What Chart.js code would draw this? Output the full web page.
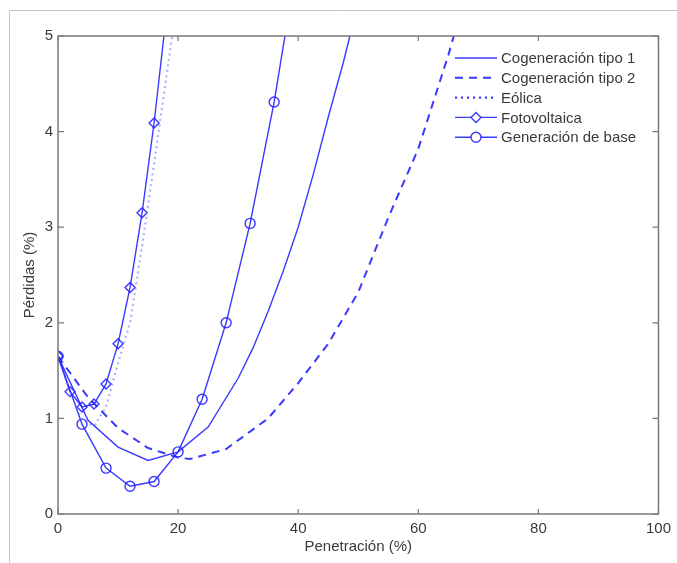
<!DOCTYPE html>
<html>
<head>
<meta charset="utf-8">
<script src="https://cdn.jsdelivr.net/npm/chart.js@4.4.1/dist/chart.umd.min.js"></script>
<style>
  html, body { margin: 0; padding: 0; background: #fff; }
</style>
</head>
<body>
<canvas id="grafico" width="677" height="563"></canvas>
<script>
// Valores (penetración % -> pérdidas %)
const tipo1X = [0, 5, 10, 15, 20, 25, 30, 32.5, 35, 37.5, 40, 42.5, 45, 47.5, 50];
const tipo1Y = [1.65, 0.98, 0.70, 0.56, 0.65, 0.91, 1.42, 1.74, 2.12, 2.54, 3.0, 3.55, 4.15, 4.72, 5.35];

const tipo2X = [0, 5, 10, 15, 20, 22, 28, 35, 40, 45, 50, 55, 60, 65, 70];
const tipo2Y = [1.65, 1.22, 0.90, 0.69, 0.59, 0.575, 0.68, 1.0, 1.37, 1.78, 2.32, 3.1, 3.82, 4.8, 5.9];

const eolicaX = [0, 2, 4, 6, 8, 10, 12, 14, 16, 18, 20];
const eolicaY = [1.65, 1.28, 0.98, 0.92, 1.12, 1.58, 2.0, 2.8, 3.66, 4.55, 5.45];

const fotoX = [0, 2, 4, 6, 8, 10, 12, 14, 16, 18];
const fotoY = [1.65, 1.28, 1.12, 1.15, 1.36, 1.78, 2.37, 3.15, 4.09, 5.2];

const baseX = [0, 4, 8, 12, 16, 20, 24, 28, 32, 36, 40];
const baseY = [1.65, 0.94, 0.48, 0.29, 0.34, 0.65, 1.2, 2.0, 3.04, 4.31, 5.85];

const nombres = ['Cogeneración tipo 1', 'Cogeneración tipo 2', 'Eólica', 'Fotovoltaica', 'Generación de base'];

const azul = 'rgba(35,35,255,0.9)';
const fuente = "'Liberation Sans', Arial, sans-serif";

function puntos(xs, ys) {
  return xs.map((x, i) => ({ x: x, y: ys[i] }));
}

// marco exterior, caja de ejes, marcas hacia dentro y leyenda
const marco = {
  id: 'marco',
  beforeDraw(chart) {
    const ctx = chart.ctx;
    ctx.save();
    ctx.strokeStyle = '#c4c4c4';
    ctx.lineWidth = 1;
    ctx.beginPath();
    ctx.moveTo(9.5, 563);
    ctx.lineTo(9.5, 10.5);
    ctx.lineTo(677, 10.5);
    ctx.stroke();
    ctx.restore();
  },
  afterDraw(chart) {
    const ctx = chart.ctx;
    const a = chart.chartArea;
    const sx = chart.scales.x, sy = chart.scales.y;
    ctx.save();
    ctx.strokeStyle = '#7a7a7a';
    ctx.lineWidth = 1.5;
    ctx.strokeRect(a.left, a.top, a.right - a.left, a.bottom - a.top);
    ctx.lineWidth = 1.2;
    ctx.beginPath();
    sx.ticks.forEach(t => {
      const px = sx.getPixelForValue(t.value);
      ctx.moveTo(px, a.bottom); ctx.lineTo(px, a.bottom - 5);
      ctx.moveTo(px, a.top); ctx.lineTo(px, a.top + 5);
    });
    sy.ticks.forEach(t => {
      const py = sy.getPixelForValue(t.value);
      ctx.moveTo(a.left, py); ctx.lineTo(a.left + 6, py);
      ctx.moveTo(a.right, py); ctx.lineTo(a.right - 6, py);
    });
    ctx.stroke();

    // leyenda
    const x0 = 455, x1 = 497, y0 = 58, paso = 19.8;
    chart.data.datasets.forEach((ds, i) => {
      const y = y0 + i * paso;
      ctx.save();
      ctx.strokeStyle = azul;
      ctx.lineWidth = ds.borderWidth;
      ctx.setLineDash(ds.legendDash || []);
      ctx.beginPath();
      ctx.moveTo(x0, y); ctx.lineTo(x1, y);
      ctx.stroke();
      ctx.restore();
      if (ds.pointStyle && ds.pointRadius > 0) {
        ctx.save();
        ctx.fillStyle = '#ffffff';
        ctx.strokeStyle = azul;
        ctx.lineWidth = ds.pointBorderWidth;
        Chart.helpers.drawPoint(ctx, {
          pointStyle: ds.pointStyle, radius: ds.pointRadius, rotation: 0, borderWidth: ds.pointBorderWidth
        }, (x0 + x1) / 2, y);
        ctx.restore();
      }
      ctx.fillStyle = '#3a3a3a';
      ctx.font = '15px ' + fuente;
      ctx.textBaseline = 'middle';
      ctx.fillText(nombres[i], x1 + 4, y + 1);
    });
    ctx.restore();
  }
};

new Chart(document.getElementById('grafico'), {
  type: 'scatter',
  data: {
    datasets: [
      { label: nombres[0], data: puntos(tipo1X, tipo1Y), showLine: true, borderColor: azul, borderWidth: 1.4, pointRadius: 0 },
      { label: nombres[1], data: puntos(tipo2X, tipo2Y), showLine: true, borderColor: azul, borderWidth: 2, borderDash: [8, 6], legendDash: [8, 6], pointRadius: 0 },
      { label: nombres[2], data: puntos(eolicaX, eolicaY), showLine: true, borderColor: 'rgba(110,110,255,0.55)', borderWidth: 2.2, borderDash: [2, 3.5], legendDash: [2, 4], pointRadius: 0 },
      { label: nombres[3], data: puntos(fotoX, fotoY), showLine: true, borderColor: azul, borderWidth: 1.4, pointStyle: 'rectRot', pointRadius: 5, pointBorderWidth: 1.4, pointBorderColor: azul, pointBackgroundColor: 'rgba(255,255,255,0)' },
      { label: nombres[4], data: puntos(baseX, baseY), showLine: true, borderColor: azul, borderWidth: 1.4, pointStyle: 'circle', pointRadius: 5, pointBorderWidth: 1.4, pointBorderColor: azul, pointBackgroundColor: 'rgba(255,255,255,0)' }
    ]
  },
  options: {
    responsive: false,
    animation: false,
    layout: { padding: { left: 0, top: 36, right: 16, bottom: 0 } },
    plugins: { legend: { display: false }, tooltip: { enabled: false } },
    elements: { line: { tension: 0 } },
    scales: {
      x: {
        type: 'linear', min: 0, max: 100,
        ticks: { stepSize: 20, padding: 6, color: '#3a3a3a', font: { family: fuente, size: 15 } },
        grid: { display: false, drawTicks: false },
        border: { display: false },
        title: { display: true, text: 'Penetración (%)', color: '#3a3a3a', font: { family: fuente, size: 15 }, padding: { top: 0, bottom: 7 } },
        afterFit(s) { s.height = 49; }
      },
      y: {
        min: 0, max: 5,
        ticks: { stepSize: 1, padding: 5, color: '#3a3a3a', font: { family: fuente, size: 15 } },
        grid: { display: false, drawTicks: false },
        border: { display: false },
        title: { display: true, text: 'Pérdidas (%)', color: '#3a3a3a', font: { family: fuente, size: 15 }, padding: { top: 21, bottom: 0 } },
        afterFit(s) { s.width = 58; }
      }
    }
  },
  plugins: [marco]
});
</script>
</body>
</html>
